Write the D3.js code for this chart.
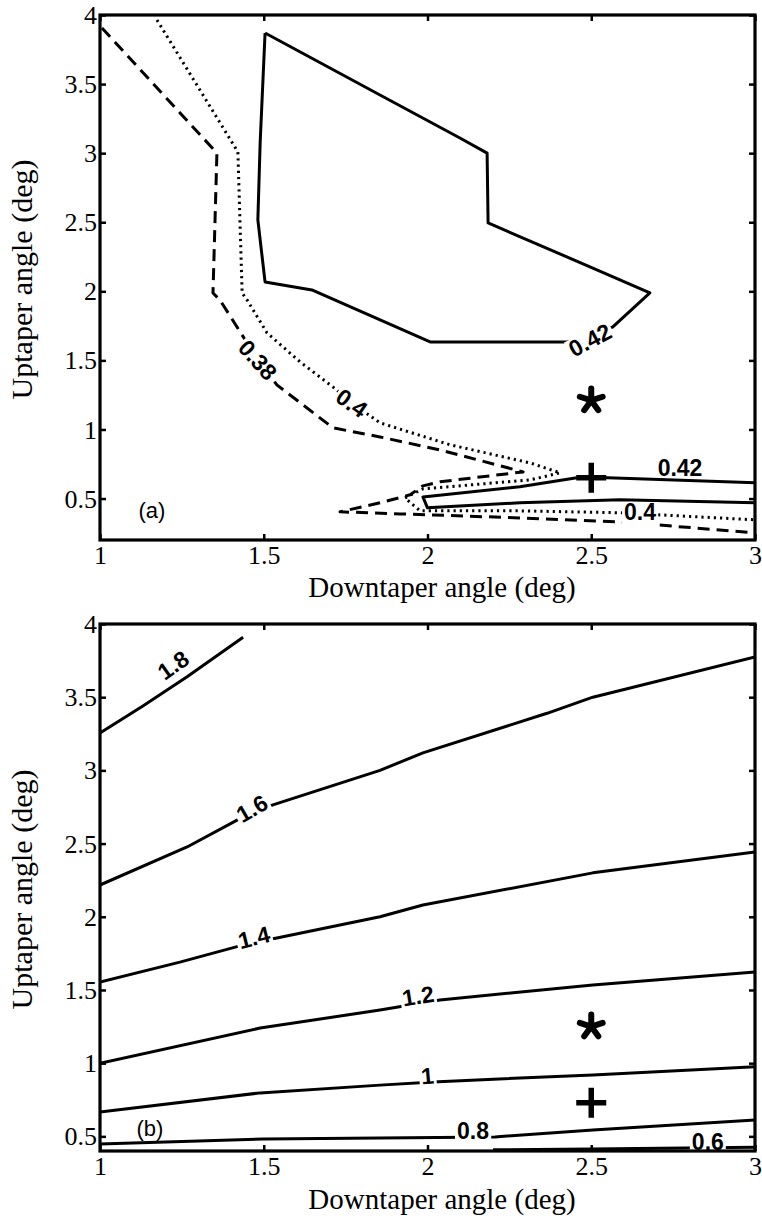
<!DOCTYPE html>
<html><head><meta charset="utf-8">
<script src="https://cdn.jsdelivr.net/npm/d3@7"></script>
<style>
html,body{margin:0;padding:0;background:#fff;}
svg{display:block;}
</style></head>
<body>
<svg id="chart" width="762" height="1216"></svg>
<script>
// ---------- shared axes ----------
const xTicks = [1, 1.5, 2, 2.5, 3];
const yTicks = [0.5, 1, 1.5, 2, 2.5, 3, 3.5, 4];
const xTitle = "Downtaper angle (deg)";
const yTitle = "Uptaper angle (deg)";

// ---------- panel (a) contours [downtaper, uptaper] ----------
const a042Upper = [[1.504,3.87],[1.855,3.421],[2.099,3.11],[2.182,3.0],[2.185,2.495],[2.496,2.177],[2.679,1.988],[2.566,1.742],[2.496,1.663],[2.426,1.634],[2.008,1.634],[1.647,2.01],[1.504,2.068],[1.482,2.517],[1.489,3.074],[1.504,3.87]];
const a042Lower = [[3.0,0.614],[2.55,0.65],[2.456,0.65],[2.282,0.585],[1.986,0.512],[2.0,0.433],[2.282,0.469],[2.588,0.491],[3.0,0.469]];
const a038 = [[1.006,3.906],[1.357,3.001],[1.345,1.988],[1.366,1.938],[1.482,1.504],[1.54,1.323],[1.711,1.012],[1.855,0.946],[2.038,0.852],[2.292,0.693],[2.038,0.621],[1.986,0.592],[1.947,0.527],[1.855,0.469],[1.733,0.404],[1.916,0.389],[2.282,0.36],[2.588,0.331],[3.0,0.252]];
const a040 = [[1.174,3.964],[1.421,3.009],[1.434,1.988],[1.449,1.938],[1.51,1.699],[1.611,1.489],[1.711,1.308],[1.769,1.192],[1.855,1.048],[2.069,0.889],[2.313,0.758],[2.405,0.686],[2.313,0.635],[1.986,0.57],[1.931,0.505],[1.977,0.411],[2.282,0.411],[2.588,0.397],[3.0,0.346]];
const aLabels = [
  {t:"0.42", x:2.496, y:1.648, r:-28, bg:true},
  {t:"0.38", x:1.482, y:1.504, r:48, bg:true},
  {t:"0.4",  x:1.769, y:1.192, r:35, bg:true},
  {t:"0.42", x:2.771, y:0.722, r:0, bg:false},
  {t:"0.4",  x:2.649, y:0.404, r:0, bg:true}
];
const aStar = [2.5, 1.21];
const aPlus = [2.5, 0.65];

// ---------- panel (b) contours ----------
const b18 = [[1.0,3.255],[1.131,3.44],[1.266,3.64],[1.437,3.91]];
const b16 = [[1.0,2.217],[1.266,2.477],[1.437,2.682],[1.528,2.764],[1.855,3.0],[1.986,3.12],[2.365,3.39],[2.505,3.5],[3.0,3.775]];
const b14 = [[1.0,1.555],[1.244,1.69],[1.458,1.82],[1.54,1.855],[1.855,2.0],[1.986,2.08],[2.505,2.3],[3.0,2.443]];
const b12 = [[1.0,1.0],[1.489,1.24],[1.855,1.363],[2.038,1.432],[2.505,1.534],[3.0,1.623]];
const b10 = [[1.0,0.667],[1.489,0.797],[1.855,0.85],[2.017,0.872],[2.505,0.92],[3.0,0.975]];
const b08 = [[1.0,0.448],[1.498,0.482],[1.855,0.489],[2.206,0.496],[2.505,0.544],[3.0,0.612]];
const b06 = [[2.2,0.408],[2.5,0.413],[3.0,0.425]];
const bLabels = [
  {t:"1.8", x:1.223, y:3.72, r:-35, bg:false},
  {t:"1.6", x:1.464, y:2.74, r:-30, bg:true},
  {t:"1.4", x:1.47, y:1.86, r:-14, bg:true},
  {t:"1.2", x:1.971, y:1.46, r:-9, bg:true},
  {t:"1",   x:2.0,   y:0.915, r:-5, bg:true},
  {t:"0.8", x:2.139, y:0.54, r:0, bg:true},
  {t:"0.6", x:2.856, y:0.462, r:0, bg:true}
];
const bStar = [2.5, 1.25];
const bPlus = [2.5, 0.73];

const svg = d3.select("#chart");
const serif = "'Liberation Serif','Times New Roman',serif";
const sans = "'Liberation Sans',Arial,sans-serif";

function panel(opt) {
  const x = d3.scaleLinear().domain([1, 3]).range([opt.left, opt.right]);
  const y = d3.scaleLinear().domain(opt.yDomain).range([opt.bottom, opt.top]);
  const g = svg.append("g");
  const clipId = "clip" + opt.id;
  svg.append("defs").append("clipPath").attr("id", clipId)
    .append("rect").attr("x", opt.left).attr("y", opt.top)
    .attr("width", opt.right - opt.left).attr("height", opt.bottom - opt.top);
  const plot = g.append("g").attr("clip-path", `url(#${clipId})`);
  const line = d3.line().x(d => x(d[0])).y(d => y(d[1]));

  opt.lines.forEach(L => {
    plot.append("path").attr("d", line(L.data))
      .attr("fill", "none").attr("stroke", "#000")
      .attr("stroke-width", L.w || 3)
      .attr("stroke-dasharray", L.dash || null)
      .attr("stroke-linecap", L.cap || "butt")
      .attr("stroke-linejoin", "round");
  });

  opt.labels.forEach(l => {
    const lg = plot.append("g").attr("transform", `translate(${x(l.x)},${y(l.y)}) rotate(${l.r})`);
    const txt = lg.append("text").text(l.t)
      .attr("text-anchor", "middle").attr("dy", "0.36em")
      .attr("font-family", sans).attr("font-weight", "bold").attr("font-size", 23);
    if (l.bg) {
      const bb = txt.node().getBBox();
      lg.insert("rect", "text").attr("x", bb.x - 2).attr("y", bb.y + 3)
        .attr("width", bb.width + 4).attr("height", bb.height + 1).attr("fill", "#fff");
    }
  });

  // star marker (5 arms)
  const sx = x(opt.star[0]), sy = y(opt.star[1]);
  const star = plot.append("g").attr("transform", `translate(${sx},${sy})`);
  for (let i = 0; i < 5; i++) {
    const a = (-90 + i * 72) * Math.PI / 180;
    star.append("line").attr("x1", 0).attr("y1", 0)
      .attr("x2", 12 * Math.cos(a)).attr("y2", 12 * Math.sin(a))
      .attr("stroke", "#000").attr("stroke-width", 6).attr("stroke-linecap", "round");
  }
  // plus marker
  const px = x(opt.plus[0]), py = y(opt.plus[1]);
  plot.append("path").attr("d", `M${px-15},${py}H${px+15}M${px},${py-15}V${py+15}`)
    .attr("stroke", "#000").attr("stroke-width", 5.5).attr("fill", "none");

  // panel tag
  g.append("text").text(opt.tag).attr("x", opt.tagX).attr("y", opt.tagY)
    .attr("font-family", sans).attr("font-size", 22).attr("text-anchor", "middle")
    .attr("dy", "0.35em");

  // axes
  const fmt = d => String(d);
  const ax = g.append("g").attr("transform", `translate(0,${opt.bottom})`)
    .call(d3.axisBottom(x).tickValues(xTicks).tickSize(-6).tickPadding(6).tickFormat(fmt));
  const axT = g.append("g").attr("transform", `translate(0,${opt.top})`)
    .call(d3.axisTop(x).tickValues(xTicks).tickSize(-6).tickFormat(""));
  const ay = g.append("g").attr("transform", `translate(${opt.left},0)`)
    .call(d3.axisLeft(y).tickValues(yTicks).tickSize(-6).tickPadding(3).tickFormat(fmt));
  const ayR = g.append("g").attr("transform", `translate(${opt.right},0)`)
    .call(d3.axisRight(y).tickValues(yTicks).tickSize(-6).tickFormat(""));
  [ax, axT, ay, ayR].forEach(a => {
    a.attr("font-family", serif).attr("font-size", 26);
    a.select(".domain").remove();
    a.selectAll(".tick line").attr("stroke", "#000").attr("stroke-width", 2.5);
    a.selectAll(".tick text").attr("font-family", serif).attr("font-size", 26).attr("fill", "#000");
  });
  ay.selectAll(".tick text").attr("dy", "0.33em");

  // frame
  g.append("rect").attr("x", opt.left).attr("y", opt.top)
    .attr("width", opt.right - opt.left).attr("height", opt.bottom - opt.top)
    .attr("fill", "none").attr("stroke", "#000").attr("stroke-width", 3.2);

  // titles
  g.append("text").text(xTitle).attr("x", 442).attr("y", opt.xTitleY)
    .attr("text-anchor", "middle").attr("font-family", serif).attr("font-size", 29);
  g.append("text").text(yTitle)
    .attr("transform", `translate(32,${(opt.top + opt.bottom) / 2 + 2}) rotate(-90)`)
    .attr("text-anchor", "middle").attr("font-family", serif).attr("font-size", 30);
}

panel({
  id: "a", left: 100, right: 755, top: 15, bottom: 540, yDomain: [0.2, 4],
  lines: [
    {data: a042Upper},
    {data: a042Lower},
    {data: a038, dash: "12 7"},
    {data: a040, dash: "2.2 4", w: 3}
  ],
  labels: aLabels, star: aStar, plus: aPlus,
  tag: "(a)", tagX: 152, tagY: 510, xTitleY: 597
});

panel({
  id: "b", left: 100, right: 755, top: 624, bottom: 1151, yDomain: [0.4, 4],
  lines: [
    {data: b18}, {data: b16}, {data: b14}, {data: b12}, {data: b10}, {data: b08}, {data: b06}
  ],
  labels: bLabels, star: bStar, plus: bPlus,
  tag: "(b)", tagX: 150, tagY: 1128, xTitleY: 1209
});
</script>
</body></html>
